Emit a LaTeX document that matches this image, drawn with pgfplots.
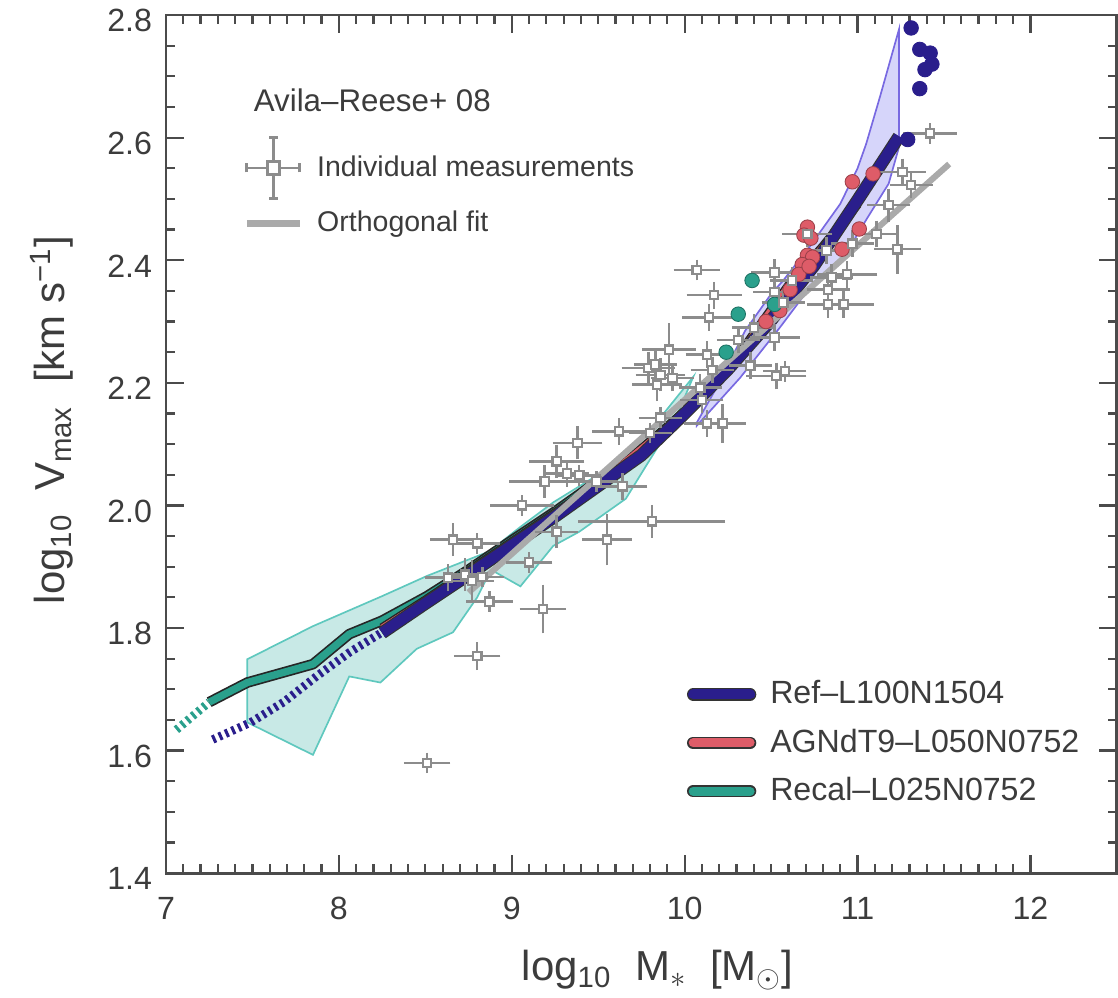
\documentclass[border=0pt]{standalone}
\usepackage{fontspec}
\setmainfont{Liberation Sans}
\usepackage{pgfplots}
\usepackage{pgfplotstable}
\pgfplotsset{compat=1.18}
\definecolor{refc}{RGB}{42,30,140}
\definecolor{agnc}{RGB}{222,92,104}
\definecolor{recc}{RGB}{42,160,140}
\definecolor{tealfill}{RGB}{200,233,230}
\definecolor{tealedge}{RGB}{95,200,190}
\definecolor{bluefill}{RGB}{214,213,250}
\definecolor{blueedge}{RGB}{120,105,225}
\definecolor{ptgray}{RGB}{140,140,140}
\definecolor{fitgray}{RGB}{170,170,170}
\definecolor{axgray}{RGB}{75,75,75}
\definecolor{labgray}{RGB}{60,60,60}

% Avila-Reese+08 individual measurements: x y xerr yerr
\pgfplotstableread{
x y ex ey
8.51 1.580 0.11 0.010
8.80 1.754 0.11 0.016
8.87 1.843 0.11 0.010
9.18 1.831 0.11 0.033
8.63 1.882 0.11 0.015
8.73 1.887 0.10 0.020
8.77 1.877 0.10 0.027
8.83 1.883 0.10 0.010
8.66 1.944 0.11 0.020
8.80 1.938 0.11 0.010
9.10 1.907 0.11 0.010
9.55 1.944 0.12 0.035
9.81 1.974 0.40 0.020
9.06 2.000 0.16 0.010
9.26 1.957 0.10 0.020
9.64 2.031 0.12 0.015
9.49 2.039 0.10 0.010
9.19 2.039 0.18 0.020
9.26 2.072 0.135 0.020
9.32 2.052 0.10 0.015
9.39 2.049 0.10 0.010
9.38 2.102 0.12 0.020
9.62 2.121 0.13 0.015
9.80 2.118 0.10 0.010
9.86 2.143 0.10 0.010
10.13 2.134 0.11 0.015
10.22 2.134 0.11 0.025
10.09 2.192 0.10 0.015
9.84 2.197 0.12 0.020
9.86 2.213 0.12 0.020
9.93 2.208 0.10 0.015
9.79 2.224 0.13 0.020
9.83 2.230 0.10 0.015
9.91 2.254 0.13 0.036
10.16 2.221 0.10 0.015
10.13 2.246 0.10 0.015
10.38 2.228 0.10 0.015
10.53 2.211 0.15 0.015
10.58 2.219 0.10 0.010
10.14 2.307 0.13 0.015
10.17 2.343 0.135 0.015
10.07 2.384 0.11 0.010
10.52 2.380 0.11 0.015
10.40 2.290 0.10 0.015
10.52 2.274 0.12 0.015
10.52 2.348 0.10 0.015
10.57 2.331 0.10 0.015
10.62 2.367 0.10 0.015
10.83 2.328 0.10 0.015
10.92 2.328 0.15 0.015
10.83 2.352 0.10 0.015
10.85 2.372 0.10 0.015
10.94 2.377 0.15 0.015
10.71 2.443 0.12 0.015
10.82 2.416 0.10 0.015
10.97 2.427 0.10 0.015
11.11 2.443 0.10 0.015
11.23 2.418 0.11 0.033
11.18 2.490 0.10 0.020
11.26 2.544 0.11 0.015
11.31 2.523 0.10 0.015
11.42 2.607 0.13 0.010
10.10 2.172 0.10 0.015
10.31 2.270 0.10 0.015
}\obs

\pgfplotstableread{
x y
8.25 1.792
8.50 1.840
8.75 1.887
9.00 1.935
9.25 1.982
9.50 2.032
9.75 2.082
10.00 2.150
10.25 2.222
10.50 2.302
10.75 2.392
11.00 2.498
11.24 2.602
}\refline

\pgfplotstableread{
x y
7.25 1.679
7.47 1.711
7.85 1.741
8.06 1.790
8.25 1.812
8.51 1.852
8.75 1.895
9.00 1.943
9.25 1.990
9.50 2.040
9.75 2.090
10.00 2.152
}\recline

\pgfplotstableread{
x y
8.25 1.800
8.50 1.845
9.00 1.940
9.50 2.035
10.00 2.150
10.30 2.240
10.60 2.358
10.80 2.422
11.00 2.492
}\agnline

\begin{document}
\begin{tikzpicture}
\begin{axis}[
  name=ax,
  width=340.2pt, height=307pt, scale only axis,
  xmin=7, xmax=12.5, ymin=1.4, ymax=2.8,
  xtick={7,8,9,10,11,12},
  ytick={1.4,1.6,1.8,2.0,2.2,2.4,2.6,2.8},
  minor x tick num=9, minor y tick num=3,
  tick align=inside, xtick pos=both, ytick pos=both,
  major tick length=6.5pt, minor tick length=3.2pt,
  axis line style={axgray, line width=1pt},
  every tick/.style={axgray, line width=0.8pt},
  /pgf/number format/assume math mode=true,
  tick label style={font=\fontsize{11.5}{13}\selectfont, text=labgray},
  xticklabel style={yshift=-5pt},
  yticklabel style={xshift=-1.5pt, yshift=-2pt, /pgf/number format/.cd, fixed, fixed zerofill, precision=1},
  xlabel={log\textsubscript{10}\ \ M\textsubscript{$\ast$}\ \ [M\textsubscript{$\odot$}]},
  ylabel={log\textsubscript{10}\ \ V\textsubscript{max}\ \ [km\ s\textsuperscript{−1}]},
  label style={font=\fontsize{15}{17}\selectfont, text=labgray},
  xlabel style={at={(axis description cs:0.517,-0.113)}, anchor=center},
  ylabel style={at={(axis description cs:-0.12,0.528)}, anchor=center},
  legend style={at={(axis description cs:0.5385,0.238)}, anchor=north west, draw=none, fill=none,
    font=\fontsize{11.5}{13}\selectfont, text=labgray, row sep=3.5pt},
  legend cell align=left,
]
% Recal 10-90 band
\addplot[fill=tealfill, draw=tealedge, line width=0.6pt, forget plot] coordinates {
 (7.47,1.749) (7.85,1.803) (8.25,1.852) (8.51,1.885) (8.87,1.925) (9.05,1.965)
 (9.24,2.005) (9.47,2.045) (9.70,2.090) (9.85,2.140) (10.05,2.210)
 (9.95,2.143) (9.78,2.066) (9.66,2.011) (9.39,1.957) (9.24,1.934) (9.05,1.868)
 (8.88,1.895) (8.80,1.850) (8.66,1.793) (8.45,1.766) (8.24,1.711) (8.06,1.721)
 (7.85,1.593) (7.47,1.646)} -- cycle;
% Ref 10-90 band
\addplot[fill=bluefill, draw=blueedge, line width=0.6pt, forget plot] coordinates {
 (10.07,2.135) (10.20,2.200) (10.35,2.285) (10.50,2.345) (10.57,2.367) (10.72,2.421)
 (10.90,2.492) (11.00,2.550) (11.05,2.590) (11.13,2.667) (11.24,2.777)
 (11.24,2.585) (11.18,2.525) (11.05,2.466) (10.90,2.395) (10.71,2.350) (10.55,2.290)
 (10.32,2.208) (10.07,2.130)} -- cycle;
% dotted low-mass extensions
\addplot[recc, line width=3pt, dash pattern=on 1.1pt off 1.4pt, forget plot] coordinates {
 (7.06,1.634) (7.25,1.679)};
\addplot[refc, line width=3pt, dash pattern=on 1.1pt off 1.4pt, forget plot] coordinates {
 (7.27,1.618) (7.49,1.646) (7.68,1.679) (7.87,1.721) (8.06,1.760) (8.25,1.793)};
% individual galaxies
\addplot[only marks, mark=*, mark size=2.6pt, mark options={fill=agnc, draw=agnc!70!black, line width=0.3pt}, forget plot] coordinates {
 (10.97,2.528) (11.09,2.541) (10.71,2.454) (10.69,2.441) (10.73,2.436) (11.01,2.451)
 (10.71,2.408) (10.74,2.405) (10.68,2.393) (10.91,2.418) (10.66,2.377) (10.72,2.390)
 (10.61,2.352) (10.55,2.318) (10.47,2.300)};
\addplot[only marks, mark=*, mark size=2.6pt, mark options={fill=recc, draw=recc!70!black, line width=0.3pt}, forget plot] coordinates {
 (10.39,2.367) (10.31,2.312) (10.52,2.328) (10.24,2.250)};
\addplot[only marks, mark=*, mark size=2.6pt, mark options={fill=refc, draw=refc, line width=0.3pt}, forget plot] coordinates {
 (11.31,2.779) (11.36,2.744) (11.42,2.738) (11.43,2.720) (11.39,2.711) (11.36,2.680) (11.29,2.597)};
% median lines
\addplot[black!85, line width=3.8pt, line join=round, forget plot] table {\recline};
\addplot[recc, line width=2.6pt, line join=round, forget plot] table {\recline};
\addplot[black!85, line width=3.4pt, line join=round, forget plot] table {\agnline};
\addplot[agnc, line width=2.4pt, line join=round, forget plot] table {\agnline};
\addplot[black!80, line width=4.6pt, line join=round, forget plot] table {\refline};
\addplot[refc, line width=3.8pt, line join=round, forget plot] table {\refline};
% orthogonal fit
\addplot[fitgray, line width=2.2pt, forget plot] coordinates {(8.75,1.858) (11.53,2.557)};
% observations
\addplot[only marks, mark=square*, mark size=1.5pt,
  mark options={fill=white, draw=ptgray, line width=0.8pt}, forget plot,
  error bars/.cd, x dir=both, x explicit, y dir=both, y explicit,
  error bar style={ptgray, line width=0.9pt},
  error mark options={ptgray, line width=0.9pt, mark size=1.5pt}]
  table[x=x, y=y, x error=ex, y error=ey] {\obs};
% legend
\addlegendimage{legend image code/.code={
  \draw[black!80, line width=4.4pt, line cap=round] (0.8pt,0pt)--(21.2pt,0pt);
  \draw[refc, line width=3.6pt, line cap=round] (0.8pt,0pt)--(21.2pt,0pt);}}
\addlegendentry{\hspace*{3pt}Ref–L100N1504}
\addlegendimage{legend image code/.code={
  \draw[black!80, line width=4.4pt, line cap=round] (0.8pt,0pt)--(21.2pt,0pt);
  \draw[agnc, line width=3.2pt, line cap=round] (0.8pt,0pt)--(21.2pt,0pt);}}
\addlegendentry{\hspace*{3pt}AGNdT9–L050N0752}
\addlegendimage{legend image code/.code={
  \draw[black!80, line width=4.4pt, line cap=round] (0.8pt,0pt)--(21.2pt,0pt);
  \draw[recc, line width=3.2pt, line cap=round] (0.8pt,0pt)--(21.2pt,0pt);}}
\addlegendentry{\hspace*{3pt}Recal–L025N0752}
\end{axis}

\begin{axis}[
  width=340.2pt, height=307pt, scale only axis, hide axis,
  xmin=7, xmax=12.5, ymin=1.4, ymax=2.8,
  legend style={at={(axis description cs:0.072,0.850)}, anchor=north west, draw=none, fill=none,
    font=\fontsize{10.2}{12}\selectfont, text=labgray, row sep=6.9pt},
  legend cell align=left,
]
\node[anchor=west, font=\fontsize{11.2}{13}\selectfont, text=labgray] at (rel axis cs:0.082,0.901) {Avila–Reese+ 08};
\addlegendimage{legend image code/.code={
  \draw[ptgray, line width=1pt] (0pt,0pt)--(19pt,0pt) (0pt,-1.6pt)--(0pt,1.6pt) (19pt,-1.6pt)--(19pt,1.6pt);
  \draw[ptgray, line width=1pt, overlay] (9.5pt,-11pt)--(9.5pt,11pt) (8pt,-11pt)--(11pt,-11pt) (8pt,11pt)--(11pt,11pt);
  \draw[ptgray, line width=1pt, fill=white] (7.3pt,-2.3pt) rectangle (11.7pt,2.3pt);}}
\addlegendentry{\hspace*{3pt}Individual measurements}
\addlegendimage{legend image code/.code={
  \draw[fitgray, line width=2.4pt] (0pt,0pt)--(19pt,0pt);}}
\addlegendentry{\hspace*{3pt}Orthogonal fit}
\end{axis}
\pgfresetboundingbox
\path (-59.4pt,-44.4pt) rectangle (340.6pt,312.4pt);
\end{tikzpicture}
\end{document}
